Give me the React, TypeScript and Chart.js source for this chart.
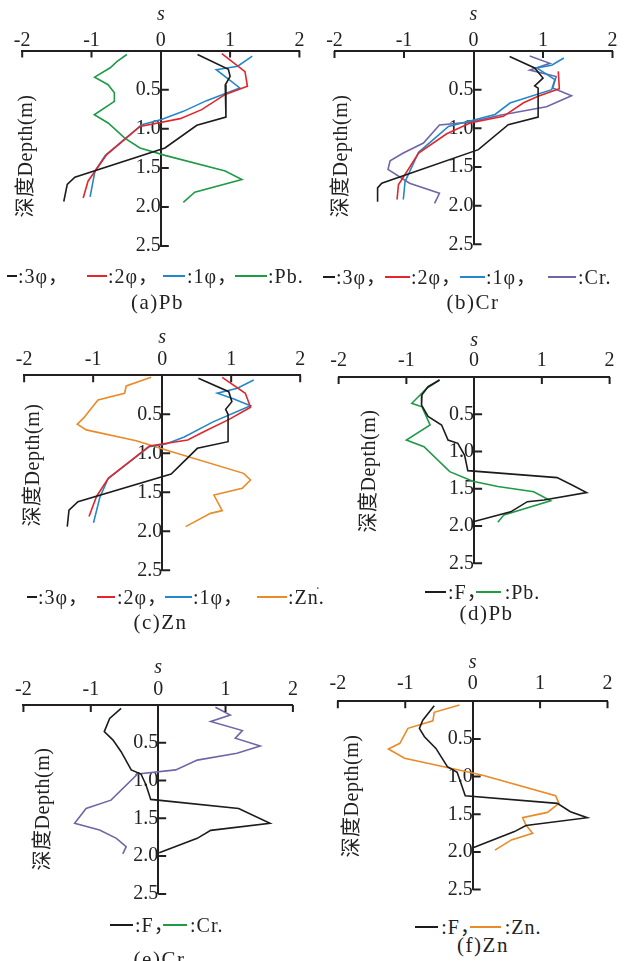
import React, { useEffect, useRef } from "react";
import { Chart, registerables } from "chart.js";

Chart.register(...registerables);

// ---------- tick values ----------
const sTicks = [-2, -1, 0, 1, 2];
const depthTicks = [0.5, 1.0, 1.5, 2.0, 2.5];

type Pt = [number, number]; // [s, depth (m)]

// ---------- (a) Pb ----------
const phi3A: Pt[] = [[0.53, 0.05], [0.975, 0.24], [1.0, 0.33], [0.93, 0.44], [0.94, 0.5], [0.94, 0.85], [0.52, 0.955], [0.06, 1.245], [-1.24, 1.62], [-1.35, 1.71], [-1.4, 1.93]];
const phi2A: Pt[] = [[0.88, 0.04], [1.215, 0.27], [1.25, 0.457], [0.93, 0.56], [0.59, 0.755], [0.28, 0.87], [-0.3, 0.97], [-0.78, 1.33], [-1.05, 1.67], [-1.12, 1.885]];
const phi1A: Pt[] = [[1.32, 0.07], [1.11, 0.2], [0.8, 0.244], [1.14, 0.478], [0.66, 0.64], [0.325, 0.777], [0.01, 0.88], [-0.275, 0.948], [-0.8, 1.34], [-0.95, 1.54], [-1.02, 1.87]];
const pbA: Pt[] = [[-0.49, 0.05], [-0.63, 0.137], [-0.73, 0.22], [-0.955, 0.34], [-0.76, 0.436], [-0.67, 0.54], [-0.67, 0.65], [-0.96, 0.82], [-0.76, 0.926], [-0.52, 1.12], [-0.3, 1.245], [0.06, 1.34], [0.93, 1.54], [1.17, 1.65], [0.49, 1.81], [0.325, 1.94]];

// ---------- (b) Cr ----------
const phi3B: Pt[] = [[0.52, 0.07], [0.88, 0.22], [1.0, 0.35], [0.88, 0.45], [0.93, 0.48], [0.93, 0.855], [0.5, 0.953], [0.07, 1.276], [-1.32, 1.71], [-1.38, 1.77], [-1.38, 1.95]];
const phi2B: Pt[] = [[1.22, 0.263], [1.235, 0.487], [0.93, 0.586], [0.72, 0.67], [0.43, 0.845], [-0.05, 0.93], [-0.385, 1.07], [-0.79, 1.32], [-1.08, 1.73], [-1.1, 1.92]];
const phi1B: Pt[] = [[1.3, 0.09], [1.125, 0.185], [0.91, 0.22], [1.05, 0.3], [1.17, 0.37], [1.125, 0.5], [0.525, 0.673], [0.31, 0.82], [0.02, 0.888], [-0.36, 0.975], [-0.79, 1.31], [-0.985, 1.69], [-1.01, 1.92]];
const crB: Pt[] = [[0.81, 0.065], [1.1, 0.16], [0.81, 0.246], [1.19, 0.33], [1.14, 0.48], [1.41, 0.58], [1.05, 0.72], [0.38, 0.83], [-0.05, 0.92], [-0.49, 0.957], [-0.72, 1.19], [-1.01, 1.32], [-1.2, 1.42], [-1.23, 1.53], [-0.92, 1.71], [-0.49, 1.84], [-0.56, 1.97]];

// ---------- (c) Zn ----------
const phi3C: Pt[] = [[0.525, 0.039], [0.965, 0.21], [1.01, 0.338], [0.92, 0.436], [0.955, 0.5], [0.955, 0.851], [0.51, 0.936], [0.13, 1.265], [-1.22, 1.62], [-1.35, 1.73], [-1.375, 1.94]];
const phi2C: Pt[] = [[0.87, 0.026], [1.205, 0.23], [1.28, 0.41], [0.97, 0.565], [0.61, 0.72], [0.37, 0.83], [-0.185, 0.906], [-0.78, 1.32], [-0.95, 1.55], [-1.06, 1.81]];
const phi1C: Pt[] = [[1.326, 0.06], [1.09, 0.167], [0.8, 0.23], [1.03, 0.3], [1.28, 0.39], [0.73, 0.6], [0.32, 0.79], [0.055, 0.88], [-0.185, 0.915], [-0.78, 1.32], [-0.9, 1.556], [-0.995, 1.89]];
const znC: Pt[] = [[-0.16, 0.026], [-0.52, 0.137], [-0.545, 0.23], [-0.93, 0.317], [-1.14, 0.55], [-1.23, 0.625], [-1.1, 0.7], [-0.376, 0.838], [0.055, 0.958], [1.18, 1.257], [1.28, 1.342], [1.16, 1.449], [0.75, 1.535], [0.87, 1.735], [0.7, 1.77], [0.34, 1.94]];

// ---------- (d) F vs Pb ----------
const fD: Pt[] = [[-0.51, 0.04], [-0.68, 0.13], [-0.77, 0.24], [-0.776, 0.376], [-0.68, 0.53], [-0.48, 0.644], [-0.385, 0.846], [-0.24, 0.89], [-0.14, 1.05], [-0.093, 1.257], [1.225, 1.35], [1.445, 1.45], [1.66, 1.55], [1.03, 1.65], [0.786, 1.673], [0.54, 1.81], [0.0, 1.94]];
const pbD: Pt[] = [[-0.51, 0.04], [-0.7, 0.152], [-0.92, 0.353], [-0.77, 0.4], [-0.65, 0.644], [-1.0, 0.846], [-0.74, 0.935], [-0.36, 1.27], [-0.02, 1.4], [0.35, 1.47], [0.88, 1.54], [1.13, 1.66], [0.44, 1.85], [0.35, 1.95]];

// ---------- (e) F vs Cr ----------
const fE: Pt[] = [[-0.55, 0.045], [-0.72, 0.178], [-0.8, 0.354], [-0.67, 0.465], [-0.55, 0.619], [-0.4, 0.86], [-0.255, 0.914], [-0.18, 1.06], [-0.11, 1.25], [1.195, 1.37], [1.66, 1.567], [0.78, 1.66], [0.58, 1.765], [0.015, 1.955]];
const crE: Pt[] = [[0.85, 0.032], [1.07, 0.134], [0.78, 0.22], [1.25, 0.34], [1.145, 0.44], [1.515, 0.544], [1.17, 0.64], [0.58, 0.73], [0.26, 0.86], [-0.305, 0.914], [-0.7, 1.26], [-1.07, 1.37], [-1.24, 1.567], [-0.87, 1.655], [-0.62, 1.765], [-0.475, 1.875], [-0.525, 1.97]];

// ---------- (f) F vs Zn ----------
const fF: Pt[] = [[-0.57, 0.06], [-0.74, 0.25], [-0.79, 0.36], [-0.715, 0.47], [-0.545, 0.625], [-0.375, 0.868], [-0.23, 0.943], [-0.11, 1.253], [1.255, 1.355], [1.45, 1.466], [1.7, 1.545], [0.79, 1.65], [0.62, 1.73], [0.015, 1.94]];
const znF: Pt[] = [[-0.195, 0.049], [-0.57, 0.146], [-0.59, 0.26], [-0.96, 0.359], [-1.08, 0.558], [-1.25, 0.634], [-1.01, 0.757], [0.135, 0.979], [1.23, 1.253], [1.28, 1.355], [1.11, 1.475], [0.74, 1.545], [0.79, 1.643], [0.89, 1.753], [0.575, 1.84], [0.33, 1.975]];

// ---------- styles ----------
const AXIS = "#231f20";
const C = {
  black: "#1c1c1c",
  red: "#e2262b",
  blue: "#2288c8",
  green: "#1f9a47",
  purple: "#6f66a8",
  orange: "#ea8a28",
};
const SERIF = "'Liberation Serif', 'Times New Roman', 'Noto Sans CJK SC', serif";

interface Legend { y: number; items: { x0: number; x1: number; tx: number; color: string; text: string }[] }
interface PanelSpec {
  box: { left: number; top: number; width: number; height: number };
  area: { L: number; R: number; T: number; B: number };
  tickPad: number;
  titlePad: number;
  series: { data: Pt[]; color: string }[];
  yTitle: { cx: number; cy: number };
  legend: Legend;
  caption: { text: string; cx: number; cy: number };
}

const panels: PanelSpec[] = [
  {
    box: { left: 10, top: 0, width: 302, height: 264 },
    area: { L: 22.2, R: 299.4, T: 50.6, B: 246.1 },
    tickPad: 0, titlePad: 3.1,
    series: [
      { data: phi3A, color: C.black }, { data: phi2A, color: C.red },
      { data: phi1A, color: C.blue }, { data: pbA, color: C.green },
    ],
    yTitle: { cx: 25, cy: 156 },
    legend: { y: 276, items: [
      { x0: 7, x1: 17, tx: 18, color: C.black, text: ":3φ，" },
      { x0: 87, x1: 107, tx: 108, color: C.red, text: ":2φ，" },
      { x0: 163, x1: 185, tx: 187, color: C.blue, text: ":1φ，" },
      { x0: 235, x1: 267, tx: 268, color: C.green, text: ":Pb." },
    ] },
    caption: { text: "(a)Pb", cx: 157.5, cy: 302 },
  },
  {
    box: { left: 322, top: 0, width: 302, height: 263 },
    area: { L: 334.5, R: 612.5, T: 51, B: 244.3 },
    tickPad: 0.3, titlePad: 2.9,
    series: [
      { data: phi3B, color: C.black }, { data: phi2B, color: C.red },
      { data: phi1B, color: C.blue }, { data: crB, color: C.purple },
    ],
    yTitle: { cx: 340, cy: 156 },
    legend: { y: 276.7, items: [
      { x0: 323, x1: 335, tx: 336, color: C.black, text: ":3φ，" },
      { x0: 385, x1: 410, tx: 411, color: C.red, text: ":2φ，" },
      { x0: 460, x1: 485, tx: 486, color: C.blue, text: ":1φ，" },
      { x0: 548, x1: 576, tx: 578, color: C.purple, text: ":Cr." },
    ] },
    caption: { text: "(b)Cr", cx: 473, cy: 302 },
  },
  {
    box: { left: 10, top: 320, width: 302, height: 269 },
    area: { L: 22.2, R: 300.2, T: 375.3, B: 570.3 },
    tickPad: 5.8, titlePad: 5.7,
    series: [
      { data: phi3C, color: C.black }, { data: phi2C, color: C.red },
      { data: phi1C, color: C.blue }, { data: znC, color: C.orange },
    ],
    yTitle: { cx: 32, cy: 465 },
    legend: { y: 596.7, items: [
      { x0: 27, x1: 37, tx: 38, color: C.black, text: ":3φ，" },
      { x0: 97, x1: 115, tx: 117, color: C.red, text: ":2φ，" },
      { x0: 165, x1: 192, tx: 193, color: C.blue, text: ":1φ，" },
      { x0: 257, x1: 287, tx: 288, color: C.orange, text: ":Zn." },
    ] },
    caption: { text: "(c)Zn", cx: 160.5, cy: 622 },
  },
  {
    box: { left: 324, top: 320, width: 298, height: 262 },
    area: { L: 336.4, R: 609.6, T: 377, B: 563.3 },
    tickPad: 6.3, titlePad: 8.7,
    series: [{ data: fD, color: C.black }, { data: pbD, color: C.green }],
    yTitle: { cx: 368, cy: 471 },
    legend: { y: 591.7, items: [
      { x0: 425, x1: 446, tx: 448, color: C.black, text: ":F，" },
      { x0: 476, x1: 501, tx: 504.7, color: C.green, text: ":Pb." },
    ] },
    caption: { text: "(d)Pb", cx: 486.5, cy: 613 },
  },
  {
    box: { left: 10, top: 645, width: 295, height: 268 },
    area: { L: 21.7, R: 292.9, T: 704.9, B: 893.9 },
    tickPad: 5.1, titlePad: 10.4,
    series: [{ data: fE, color: C.black }, { data: crE, color: C.purple }],
    yTitle: { cx: 42, cy: 809 },
    legend: { y: 925, items: [
      { x0: 110, x1: 133, tx: 135, color: C.black, text: ":F，" },
      { x0: 163, x1: 187, tx: 190, color: C.green, text: ":Cr." },
    ] },
    caption: { text: "(e)Cr", cx: 159.5, cy: 959 },
  },
  {
    box: { left: 322, top: 645, width: 298, height: 264 },
    area: { L: 333.7, R: 607.7, T: 701.3, B: 889.6 },
    tickPad: 7.5, titlePad: 5.4,
    series: [{ data: fF, color: C.black }, { data: znF, color: C.orange }],
    yTitle: { cx: 351, cy: 796 },
    legend: { y: 926.7, items: [
      { x0: 415, x1: 438, tx: 441.3, color: C.black, text: ":F，" },
      { x0: 470, x1: 501, tx: 504.7, color: C.orange, text: ":Zn." },
    ] },
    caption: { text: "(f)Zn", cx: 483, cy: 945 },
  },
];

// inward tick marks on both axes
const tickMarks = {
  id: "tickMarks",
  afterDraw(chart: any) {
    const { ctx } = chart;
    const x = chart.scales.x;
    const y = chart.scales.y;
    const x0 = x.getPixelForValue(0);
    ctx.save();
    ctx.strokeStyle = AXIS;
    ctx.lineWidth = 2;
    ctx.beginPath();
    sTicks.forEach((v) => {
      if (v === 0) return;
      const px = x.getPixelForValue(v);
      ctx.moveTo(px, chart.chartArea.top);
      ctx.lineTo(px, chart.chartArea.top + 7);
    });
    depthTicks.forEach((d) => {
      const py = y.getPixelForValue(d);
      ctx.moveTo(x0, py);
      ctx.lineTo(x0 + 8, py);
    });
    ctx.stroke();
    ctx.restore();
  },
};

function Panel({ spec }: { spec: PanelSpec }) {
  const ref = useRef<HTMLCanvasElement>(null);
  useEffect(() => {
    const { box, area } = spec;
    const chart = new Chart(ref.current as HTMLCanvasElement, {
      type: "scatter",
      data: {
        datasets: spec.series.map((s) => ({
          data: s.data.map(([sv, d]) => ({ x: sv, y: d })),
          borderColor: s.color,
          backgroundColor: s.color,
          borderWidth: 1.6,
          showLine: true,
          pointRadius: 0,
          pointHoverRadius: 0,
          tension: 0,
        })),
      },
      options: {
        responsive: false,
        animation: false,
        devicePixelRatio: 1,
        events: [],
        layout: {
          padding: {
            left: area.L - box.left,
            right: box.left + box.width - area.R,
            top: 0,
            bottom: box.top + box.height - area.B,
          },
        },
        plugins: { legend: { display: false }, tooltip: { enabled: false }, title: { display: false } },
        scales: {
          x: {
            type: "linear",
            position: "top",
            min: -2,
            max: 2,
            afterBuildTicks: (sc: any) => { sc.ticks = sTicks.map((v) => ({ value: v })); },
            afterFit: (sc: any) => { sc.height = area.T - box.top; },
            grid: { display: false, drawTicks: false },
            border: { display: true, color: AXIS, width: 2 },
            ticks: {
              color: "#222",
              font: { family: SERIF, size: 20, lineHeight: 1 },
              padding: spec.tickPad,
              maxRotation: 0,
              autoSkip: false,
              callback: (v: any) => String(v),
            },
            title: {
              display: true,
              text: "s",
              color: "#222",
              font: { family: SERIF, size: 20, style: "italic", lineHeight: 1.2 },
              padding: { top: spec.titlePad, bottom: 0 },
            },
          },
          y: {
            type: "linear",
            position: { x: 0 },
            reverse: true,
            min: 0,
            max: 2.5,
            afterBuildTicks: (sc: any) => { sc.ticks = depthTicks.map((v) => ({ value: v })); },
            grid: { display: false, drawTicks: false },
            border: { display: true, color: AXIS, width: 2 },
            ticks: {
              color: "#222",
              font: { family: SERIF, size: 20, lineHeight: 1 },
              padding: 6,
              autoSkip: false,
              callback: (v: any) => Number(v).toFixed(1),
            },
          },
        },
      } as any,
      plugins: [tickMarks],
    });
    return () => chart.destroy();
  }, [spec]);

  const { box } = spec;
  return (
    <>
      <canvas
        ref={ref}
        width={box.width}
        height={box.height}
        style={{ position: "absolute", left: box.left, top: box.top, width: box.width, height: box.height }}
      />
      <div
        style={{
          position: "absolute",
          left: spec.yTitle.cx - 90,
          top: spec.yTitle.cy - 12,
          width: 180,
          height: 24,
          lineHeight: "24px",
          textAlign: "center",
          transform: "rotate(-90deg)",
          fontFamily: SERIF,
          fontSize: 20,
          letterSpacing: 0.5,
          color: "#222",
          whiteSpace: "nowrap",
        }}
      >
        深度Depth(m)
      </div>
      {spec.legend.items.map((it, i) => (
        <React.Fragment key={i}>
          <div
            style={{
              position: "absolute",
              left: it.x0,
              top: spec.legend.y - 1,
              width: it.x1 - it.x0,
              height: 2,
              background: it.color,
            }}
          />
          <div
            style={{
              position: "absolute",
              left: it.tx,
              top: spec.legend.y - 13,
              height: 26,
              lineHeight: "26px",
              fontFamily: SERIF,
              fontSize: 20,
              letterSpacing: 1,
              color: "#222",
              whiteSpace: "nowrap",
            }}
          >
            {it.text}
          </div>
        </React.Fragment>
      ))}
      <div
        style={{
          position: "absolute",
          left: spec.caption.cx - 60,
          top: spec.caption.cy - 13,
          width: 120,
          height: 26,
          lineHeight: "26px",
          textAlign: "center",
          fontFamily: SERIF,
          fontSize: 21,
          letterSpacing: 1.5,
          color: "#222",
          whiteSpace: "nowrap",
        }}
      >
        {spec.caption.text}
      </div>
    </>
  );
}

export default function App() {
  return (
    <div
      style={{
        position: "fixed",
        left: 0,
        top: 0,
        width: 626,
        height: 961,
        overflow: "hidden",
        background: "#fff",
      }}
    >
      {panels.map((p, i) => (
        <Panel key={i} spec={p} />
      ))}
      <div style={{ position: "absolute", left: 316, top: 577, fontFamily: SERIF, fontSize: 14, color: "#555" }}>.</div>
    </div>
  );
}
